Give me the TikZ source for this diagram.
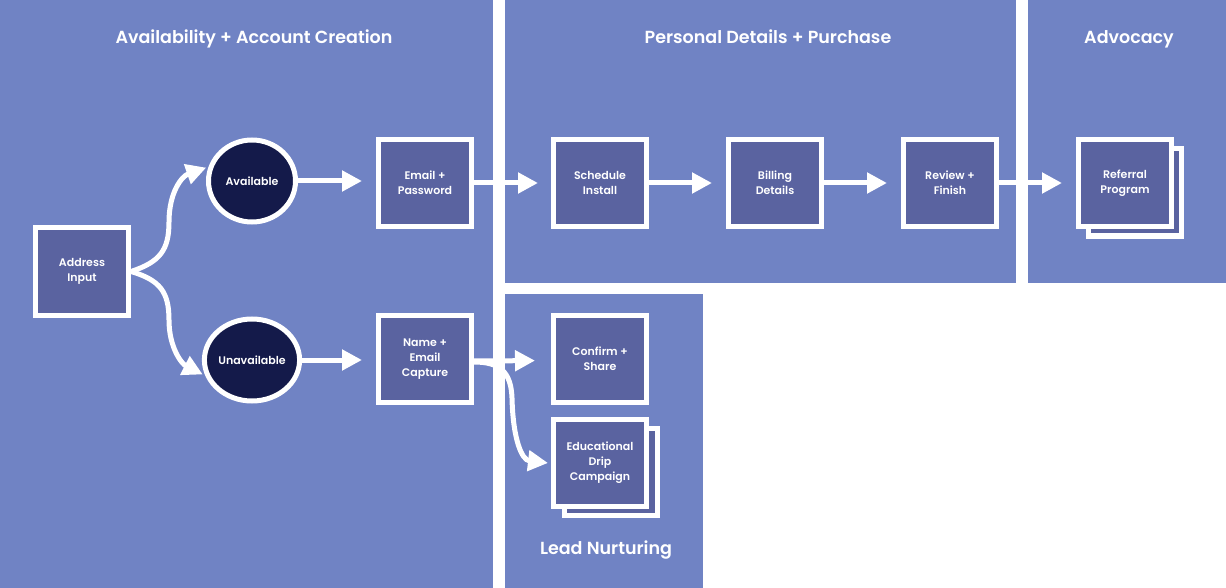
\documentclass[tikz,border=0pt]{standalone}
\usepackage{fontspec}
\setmainfont{Poppins}[BoldFont={Poppins SemiBold}]
\usetikzlibrary{arrows.meta,shapes.geometric}
\definecolor{panelc}{HTML}{7083C4}
\definecolor{boxc}{HTML}{5A63A0}
\definecolor{navyc}{HTML}{141A4A}
\tikzset{
  stepbox/.style={draw=white, line width=5pt, fill=boxc, minimum width=93pt, minimum height=87pt,
    inner sep=0pt, align=center, text=white, font=\fontsize{11}{15}\selectfont\bfseries},
  statec/.style={ellipse, draw=white, line width=5pt, fill=navyc, minimum width=87pt, minimum height=82pt,
    inner sep=0pt, align=center, text=white, font=\fontsize{11}{14}\selectfont\bfseries},
  flow/.style={draw=white, line width=5pt, -{Triangle[length=20pt,width=20pt]}},
  paneltitle/.style={text=white, font=\fontsize{17.5}{20}\selectfont\bfseries, anchor=base}
}
\begin{document}
\begin{tikzpicture}[x=1pt,y=-1pt]
\useasboundingbox (0,0) rectangle (1226,588);
\fill[white] (0,0) rectangle (1226,588);
% panels
\fill[panelc] (0,0) rectangle (493,588);
\fill[panelc] (505,0) rectangle (1016,283);
\fill[panelc] (1028,0) rectangle (1226,283);
\fill[panelc] (505,294) rectangle (703,588);
% titles
\node[paneltitle] (t1) at (254,44) {Availability + Account Creation};
\node[paneltitle] (t2) at (768,44) {Personal Details + Purchase};
\node[paneltitle] (t3) at (1129,44) {Advocacy};
\node[paneltitle] (t4) at (606,554) {Lead Nurturing};
% back boxes of stacks
\node[stepbox] (refback) at (1135,192.5) {};
\node[stepbox] (eduback) at (611,472) {};
% nodes
\node[stepbox] (addr) at (82,271.5) {Address\\Input};
\node[statec] (avail) at (252,181) {Available};
\node[statec] (unav) at (252,360) {Unavailable};
\node[stepbox] (email) at (425,183) {Email +\\Password};
\node[stepbox] (name) at (425,359) {Name +\\Email\\Capture};
\node[stepbox] (sched) at (600,183) {Schedule\\Install};
\node[stepbox] (bill) at (775,183) {Billing\\Details};
\node[stepbox] (rev) at (950,183) {Review +\\Finish};
\node[stepbox] (ref) at (1125,183) {Referral\\Program};
\node[stepbox] (conf) at (600,358.5) {Confirm +\\Share};
\node[stepbox] (edu) at (600,463) {Educational\\Drip\\Campaign};
% connectors
\draw[flow] (addr.east) .. controls (160,262) and (169,250) .. (169,222)
  .. controls (169,192) and (182,176) .. ([xshift=-2pt]avail.163);
\draw[flow] (addr.east) .. controls (160,280) and (169,292) .. (169,320)
  .. controls (169,348) and (182,364) .. ([xshift=-2pt]unav.197);
\draw[flow, shorten >=14pt] (avail.east) -- (avail.east -| email.west);
\draw[flow, shorten >=14pt] (unav.east) -- (unav.east -| name.west);
\draw[flow, shorten >=13pt] (email.east) -- (sched.west);
\draw[flow, shorten >=14pt] (sched.east) -- (bill.west);
\draw[flow, shorten >=14pt] (bill.east) -- (rev.west);
\draw[flow, shorten >=14pt] (rev.east) -- (ref.west);
\draw[flow, shorten >=16pt] ([yshift=-2pt]name.east) -- ([yshift=-2pt]conf.west);
\draw[flow] ([yshift=-3pt]name.east) .. controls (500,362) and (511,372) .. (512,398)
  .. controls (513,440) and (522,460) .. ([xshift=-3pt]edu.west);
\end{tikzpicture}
\end{document}
